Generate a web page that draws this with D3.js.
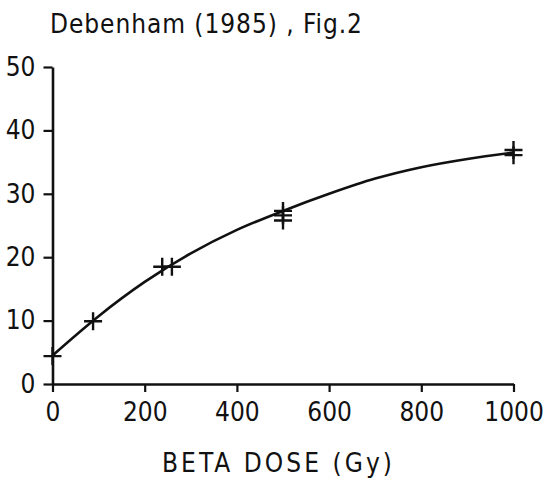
<!DOCTYPE html>
<html>
<head>
<meta charset="utf-8">
<script src="https://cdn.jsdelivr.net/npm/d3@7"></script>
<style>
  body { margin: 0; background: #fff; }
  svg { display: block; }
</style>
</head>
<body>
<div class="chart"></div>
<script>
// measured points (dose in Gy, signal)
const doseX = [0, 88, 238, 259, 500, 500, 500, 1000, 1000];
const signalY = [4.4, 9.9, 18.5, 18.5, 27.3, 26.6, 25.8, 36.9, 36.1];

// fitted growth curve
const curveX = [0, 100, 200, 300, 400, 500, 600, 700, 800, 900, 1000];
const curveY = [4.5, 10.7, 16.1, 20.6, 24.3, 27.3, 30.0, 32.4, 34.2, 35.5, 36.5];

const xTicks = [0, 200, 400, 600, 800, 1000];
const yTicks = [0, 10, 20, 30, 40, 50];

const width = 548, height = 484;
const ink = "#111";
const font = "'DejaVu Sans Condensed', 'DejaVu Sans', sans-serif";

const svg = d3.select(".chart").append("svg")
  .attr("width", width)
  .attr("height", height);

const x = d3.scaleLinear().domain([0, 1000]).range([52.5, 513.5]);
const y = d3.scaleLinear().domain([0, 50]).range([384, 67]);

// axes
const xAxis = svg.append("g")
  .attr("transform", "translate(0," + y(0) + ")")
  .call(d3.axisBottom(x).tickValues(xTicks).tickFormat(d3.format("d"))
    .tickSize(8).tickSizeOuter(0).tickPadding(11));

const yAxis = svg.append("g")
  .attr("transform", "translate(" + x(0) + ",0)")
  .call(d3.axisLeft(y).tickValues(yTicks).tickFormat(d3.format("d"))
    .tickSize(9).tickSizeOuter(0).tickPadding(8));

[xAxis, yAxis].forEach(ax => {
  ax.attr("font-family", font).attr("font-size", 26);
  ax.select(".domain").attr("stroke", ink).attr("stroke-width", 2.6);
  ax.selectAll(".tick line").attr("stroke", ink).attr("stroke-width", 2.2);
  ax.selectAll(".tick text").attr("fill", ink);
});

// fitted curve
const line = d3.line()
  .x(d => x(d[0]))
  .y(d => y(d[1]))
  .curve(d3.curveMonotoneX);

svg.append("path")
  .datum(d3.zip(curveX, curveY))
  .attr("d", line)
  .attr("stroke", ink)
  .attr("stroke-width", 2.6)
  .attr("fill", "none");

// plus markers
const arm = 9;
const pts = d3.zip(doseX, signalY);
svg.append("g").selectAll("path")
  .data(pts)
  .join("path")
  .attr("d", d => {
    const cx = x(d[0]), cy = y(d[1]);
    return "M" + (cx - arm) + "," + cy + "H" + (cx + arm) +
      "M" + cx + "," + (cy - arm) + "V" + (cy + arm);
  })
  .attr("stroke", ink)
  .attr("stroke-width", 2.4)
  .attr("fill", "none");

// texts
svg.append("text")
  .attr("x", 50)
  .attr("y", 33)
  .attr("font-family", font)
  .attr("font-size", 26)
  .attr("fill", ink)
  .attr("textLength", 312)
  .attr("lengthAdjust", "spacing")
  .text("Debenham (1985) , Fig.2");

svg.append("text")
  .attr("x", 162)
  .attr("y", 472)
  .attr("font-family", font)
  .attr("font-size", 26)
  .attr("fill", ink)
  .attr("textLength", 230)
  .attr("lengthAdjust", "spacing")
  .text("BETA DOSE (Gy)");
</script>
</body>
</html>
